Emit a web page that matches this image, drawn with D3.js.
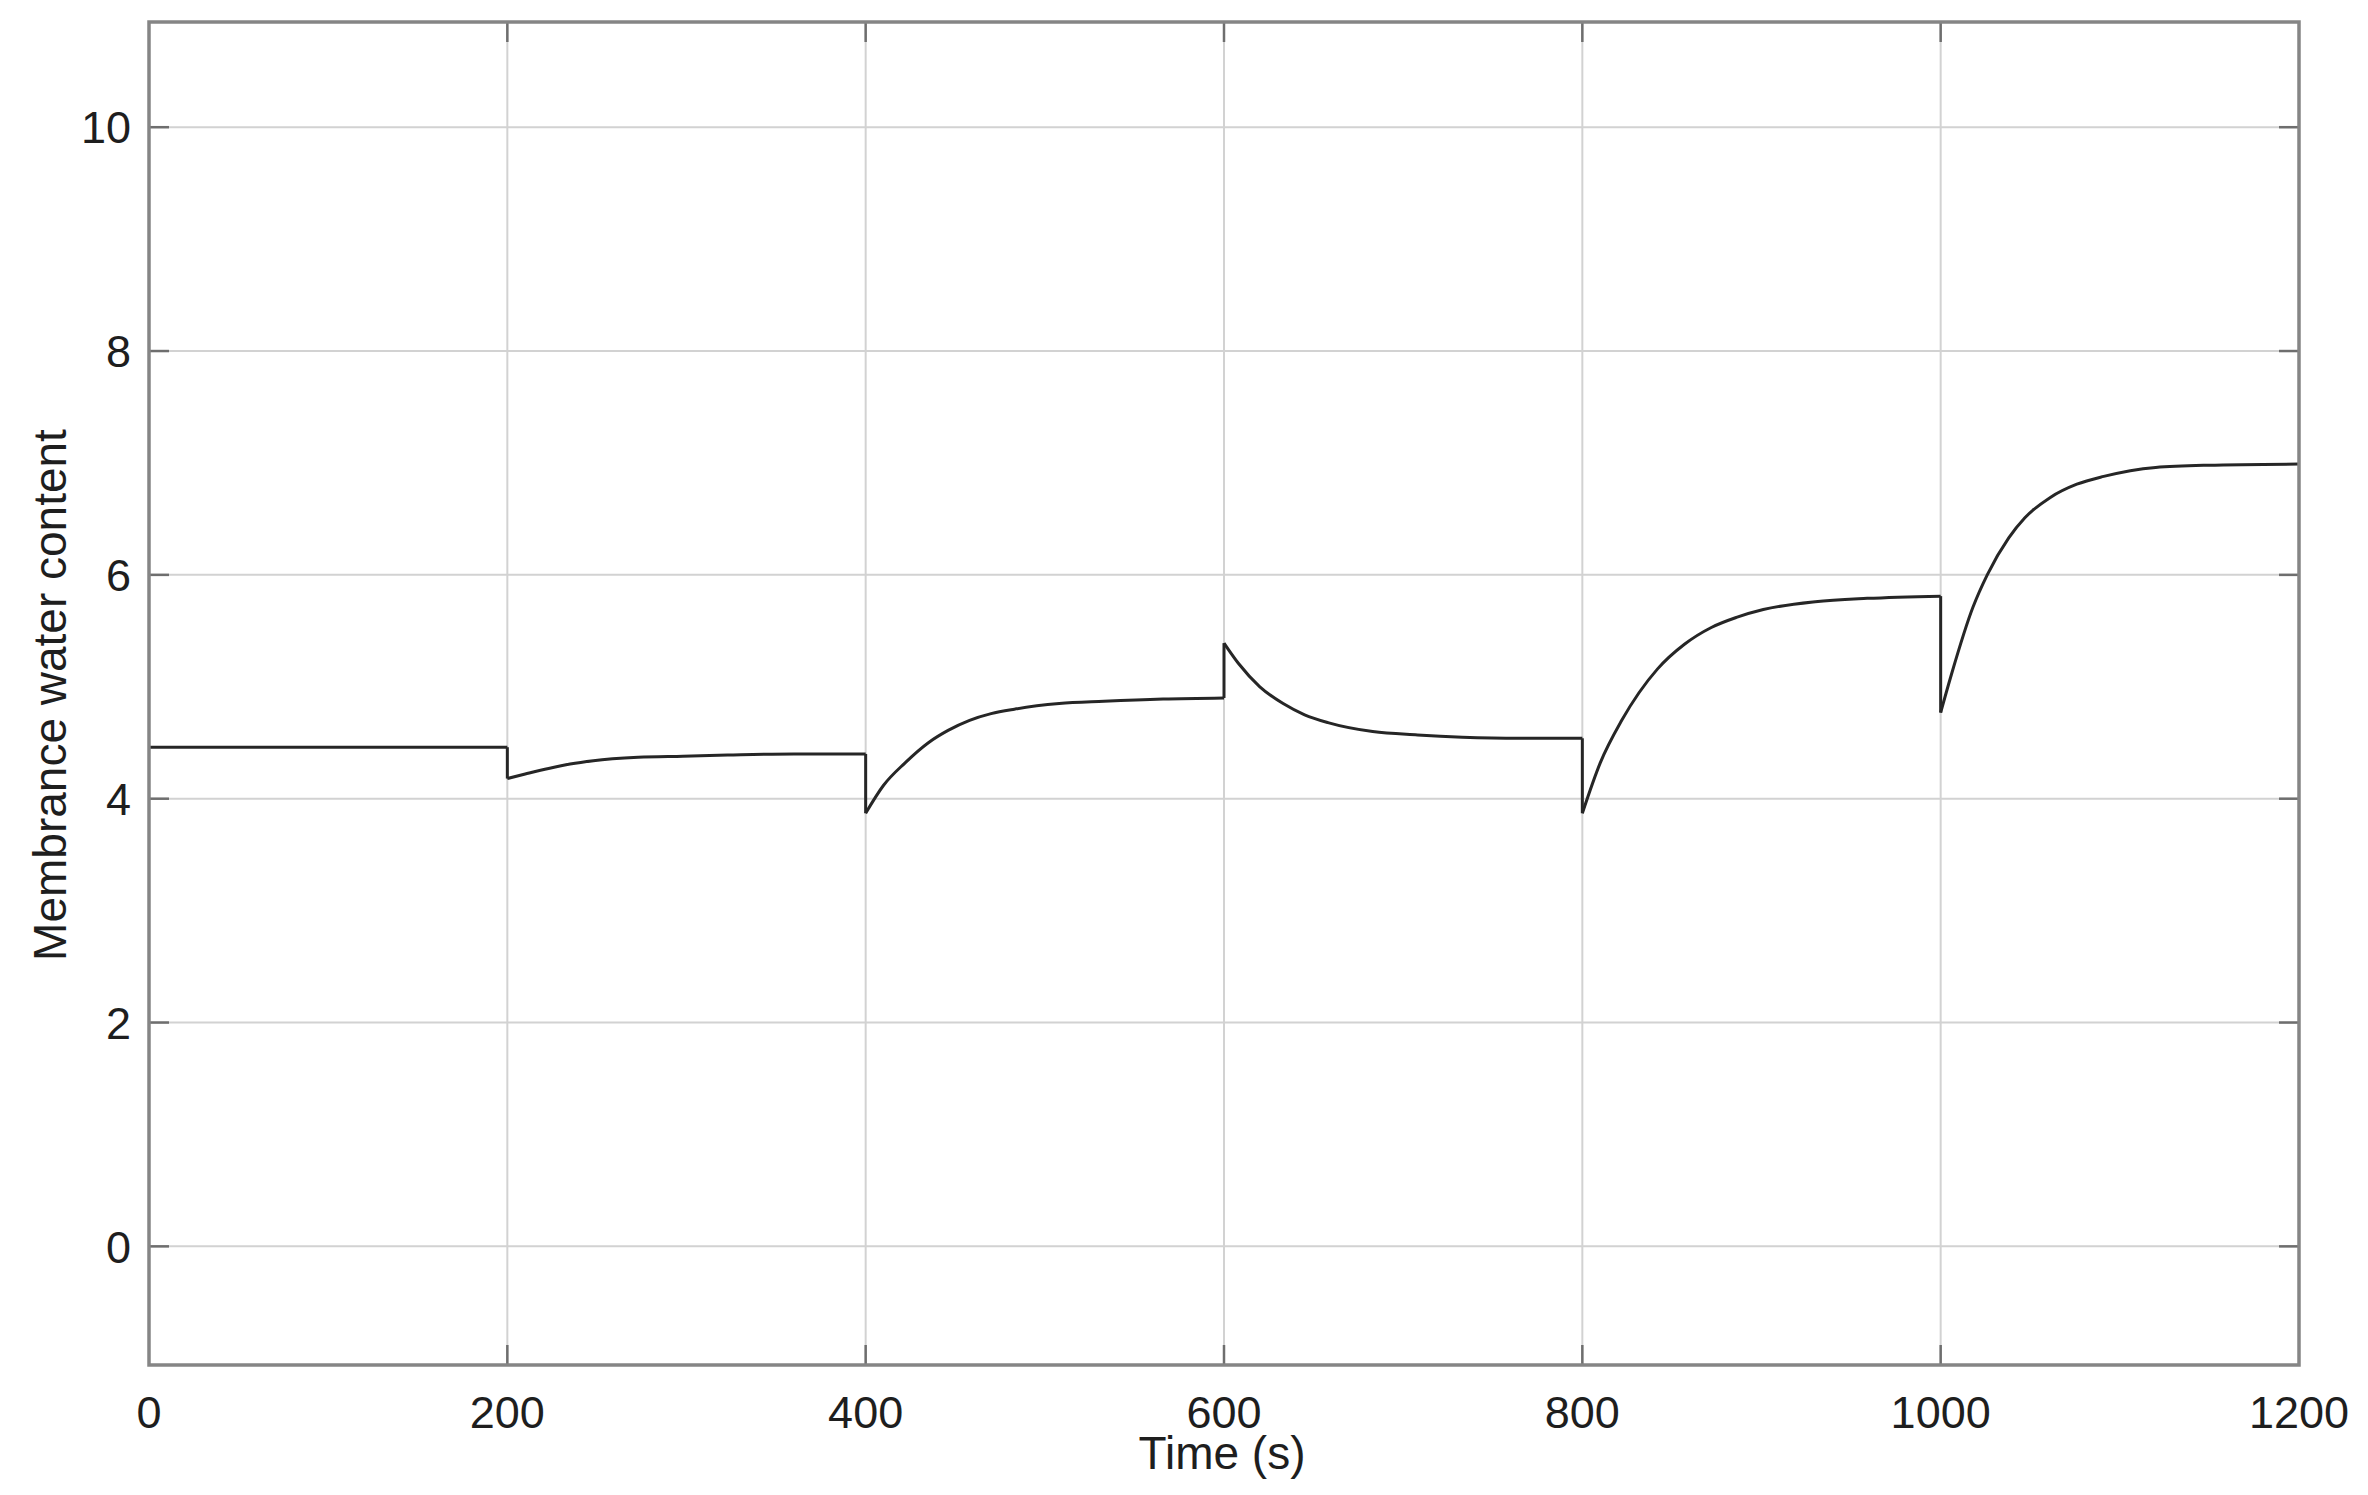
<!DOCTYPE html>
<meta charset="utf-8">
<script src="https://cdn.jsdelivr.net/npm/d3@7"></script>
<style>
  body { margin: 0; background: #fff; }
  text { font-family: "Liberation Sans", Arial, sans-serif; fill: #1e1e1e; }
  .grid line { stroke: #d2d2d2; stroke-width: 2px; }
  .frame { fill: none; stroke: #858585; stroke-width: 3.5px; }
  .tick-mark { stroke: #6e6e6e; stroke-width: 2.5px; }
  .curve { fill: none; stroke: #262626; stroke-width: 3px; stroke-linejoin: round; }
</style>
<body>
<div id="chart"></div>
<script>
  // tick values
  const xTicks = [0, 200, 400, 600, 800, 1000, 1200];
  const yTicks = [0, 2, 4, 6, 8, 10];

  // series (a repeated time = a step change)
  const time = [
    0, 200,
    200, 210, 223, 235, 248, 273, 298, 323, 360, 400,
    400, 410, 422, 435, 446, 458, 470, 483, 508, 533, 566, 600,
    600, 608, 620, 633, 645, 658, 683, 708, 733, 765, 800,
    800, 810, 822, 842, 857, 872, 886, 901, 930, 959, 1000,
    1000, 1006, 1018, 1026, 1038, 1047, 1061, 1076, 1091, 1120, 1149, 1200
  ];
  const water = [
    4.46, 4.46,
    4.18, 4.22, 4.27, 4.31, 4.34, 4.37, 4.38, 4.39, 4.40, 4.40,
    3.87, 4.12, 4.32, 4.50, 4.61, 4.70, 4.76, 4.80, 4.85, 4.87, 4.89, 4.90,
    5.39, 5.21, 5.00, 4.85, 4.75, 4.68, 4.60, 4.57, 4.55, 4.54, 4.54,
    3.87, 4.32, 4.70, 5.16, 5.38, 5.53, 5.62, 5.69, 5.76, 5.79, 5.81,
    4.77, 5.11, 5.71, 6.00, 6.33, 6.51, 6.69, 6.81, 6.88, 6.96, 6.98, 6.99
  ];

  const W = 2368, H = 1495;
  const margin = {top: 22, right: 69, bottom: 130, left: 149};
  const width = W - margin.left - margin.right,
        height = H - margin.top - margin.bottom;

  const svg = d3.select("#chart").append("svg")
      .attr("width", W)
      .attr("height", H);
  const g = svg.append("g")
      .attr("transform", `translate(${margin.left},${margin.top})`);

  const x = d3.scaleLinear().domain([0, 1200]).range([0, width]);
  const y = d3.scaleLinear().domain([-1.06, 10.94]).range([height, 0]);

  // grid
  const grid = g.append("g").attr("class", "grid");
  grid.selectAll(".gx").data(xTicks.slice(1, -1)).join("line")
      .attr("x1", d => x(d)).attr("x2", d => x(d))
      .attr("y1", 0).attr("y2", height);
  grid.selectAll(".gy").data(yTicks).join("line")
      .attr("x1", 0).attr("x2", width)
      .attr("y1", d => y(d)).attr("y2", d => y(d));

  // inward tick marks on all four sides
  const tl = 20;
  const ticks = g.append("g");
  xTicks.slice(1, -1).forEach(d => {
    ticks.append("line").attr("class", "tick-mark")
      .attr("x1", x(d)).attr("x2", x(d)).attr("y1", height).attr("y2", height - tl);
    ticks.append("line").attr("class", "tick-mark")
      .attr("x1", x(d)).attr("x2", x(d)).attr("y1", 0).attr("y2", tl);
  });
  yTicks.forEach(d => {
    ticks.append("line").attr("class", "tick-mark")
      .attr("x1", 0).attr("x2", tl).attr("y1", y(d)).attr("y2", y(d));
    ticks.append("line").attr("class", "tick-mark")
      .attr("x1", width).attr("x2", width - tl).attr("y1", y(d)).attr("y2", y(d));
  });

  // split the series into continuous pieces at the step changes
  const pts = time.map((t, i) => ({t: t, v: water[i]}));
  const pieces = [];
  let cur = [];
  pts.forEach((p, i) => {
    if (i > 0 && p.t === pts[i - 1].t) { pieces.push(cur); cur = []; }
    cur.push(p);
  });
  pieces.push(cur);

  const smooth = d3.line().x(d => x(d.t)).y(d => y(d.v)).curve(d3.curveMonotoneX);
  g.selectAll(".piece").data(pieces).join("path")
      .attr("class", "curve")
      .attr("d", smooth);

  // vertical jumps between pieces
  const jumps = pieces.slice(1).map((p, i) => [pieces[i][pieces[i].length - 1], p[0]]);
  const straight = d3.line().x(d => x(d.t)).y(d => y(d.v));
  g.selectAll(".jump").data(jumps).join("path")
      .attr("class", "curve")
      .attr("d", straight);

  // frame
  g.append("rect").attr("class", "frame")
      .attr("x", 0).attr("y", 0).attr("width", width).attr("height", height);

  // tick labels
  g.selectAll(".xl").data(xTicks).join("text")
      .attr("x", d => x(d)).attr("y", height + 63)
      .attr("text-anchor", "middle")
      .style("font-size", "45px")
      .text(d => d);
  g.selectAll(".yl").data(yTicks).join("text")
      .attr("x", -18).attr("y", d => y(d)).attr("dy", "0.36em")
      .attr("text-anchor", "end")
      .style("font-size", "45px")
      .text(d => d);

  // axis titles
  svg.append("text")
      .attr("x", margin.left + width / 2 - 2).attr("y", 1469)
      .attr("text-anchor", "middle")
      .style("font-size", "46px")
      .text("Time (s)");
  svg.append("text")
      .attr("transform", "translate(66,695) rotate(-90)")
      .attr("text-anchor", "middle")
      .style("font-size", "46px")
      .text("Membrance water content");
</script>
</body>
